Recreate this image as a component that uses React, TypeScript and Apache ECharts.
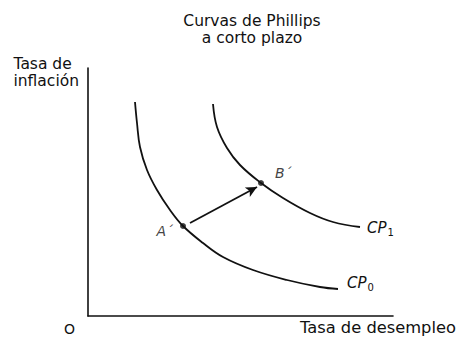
import React, { useEffect, useRef } from "react";
import * as echarts from "echarts";

// Short-run Phillips curves (x = unemployment, y = inflation), arbitrary units
const cp0X = [47, 49, 52, 59, 69, 82, 95, 115, 135, 165, 199, 232, 250];
const cp0Y = [214, 193, 169, 146, 126, 106, 90, 73, 59, 46, 36, 29, 27];
const cp1X = [125, 129, 139, 152, 173, 195, 222, 245, 272];
const cp1Y = [212, 189, 168, 151, 133, 118, 103, 94, 89];
const pointNames = ["A´", "B´"];
const pointX = [95, 173];
const pointY = [90, 133];
const arrowFrom = [102, 93];
const arrowTo = [169, 129];
const curveNames = ["CP0", "CP1"];

const FONT = "DejaVu Sans, Liberation Sans, Arial, sans-serif";

export default function App() {
  const ref = useRef<HTMLDivElement>(null);
  useEffect(() => {
    const chart = echarts.init(ref.current!, null, { renderer: "svg" });
    const ink = "#111111";
    const sub = (name: string) => `{m|${name.slice(0, 2)}}{s|${name.slice(2)}}`;
    const richSub = {
      m: { fontFamily: FONT, fontStyle: "italic", fontSize: 15, color: ink },
      s: { fontFamily: FONT, fontSize: 10, color: ink, padding: [9, 0, 0, 1] },
    };
    const pointLabels = [
      { position: "left", offset: [-2, 5] },
      { position: "right", offset: [6, -10] },
    ];
    chart.setOption({
      animation: false,
      backgroundColor: "#ffffff",
      title: {
        text: "Curvas de Phillips\na corto plazo",
        left: 247,
        textAlign: "center",
        top: 7,
        textStyle: { fontFamily: FONT, fontSize: 15.5, fontWeight: "normal", color: ink, lineHeight: 17 },
      },
      grid: { left: 88, top: 68, width: 305, height: 248 },
      xAxis: {
        type: "value",
        min: 0,
        max: 305,
        splitLine: { show: false },
        axisTick: { show: false },
        axisLabel: { show: false },
        axisLine: { show: true, lineStyle: { color: ink, width: 1.6 } },
      },
      yAxis: {
        type: "value",
        min: 0,
        max: 248,
        splitLine: { show: false },
        axisTick: { show: false },
        axisLabel: { show: false },
        axisLine: { show: true, lineStyle: { color: ink, width: 1.6 } },
      },
      series: [
        {
          type: "line",
          name: curveNames[0],
          data: cp0X.map((x, i) => [x, cp0Y[i]]),
          smooth: 0.4,
          showSymbol: false,
          lineStyle: { color: ink, width: 1.8 },
          endLabel: {
            show: true,
            formatter: () => sub(curveNames[0]),
            rich: richSub,
            distance: 9,
            offset: [0, -6],
          },
        },
        {
          type: "line",
          name: curveNames[1],
          data: cp1X.map((x, i) => [x, cp1Y[i]]),
          smooth: 0.4,
          showSymbol: false,
          lineStyle: { color: ink, width: 1.8 },
          endLabel: {
            show: true,
            formatter: () => sub(curveNames[1]),
            rich: richSub,
            distance: 7,
            offset: [0, 1],
          },
          markLine: {
            silent: true,
            symbol: ["none", "arrow"],
            symbolSize: [8, 11],
            label: { show: false },
            lineStyle: { color: ink, width: 1.8, type: "solid" },
            data: [[{ coord: arrowFrom }, { coord: arrowTo }]],
          },
        },
        {
          type: "scatter",
          data: pointX.map((x, i) => ({
            value: [x, pointY[i]],
            name: pointNames[i],
            label: pointLabels[i],
          })),
          symbolSize: 6,
          itemStyle: { color: ink },
          label: {
            show: true,
            formatter: (p: any) => p.name,
            distance: 5,
            fontFamily: FONT,
            fontStyle: "italic",
            fontSize: 14,
            color: ink,
          },
        },
      ],
      graphic: [
        {
          type: "text",
          right: 462 - 79,
          top: 55,
          style: {
            text: "Tasa de\ninflación",
            align: "right",
            fontFamily: FONT,
            fontSize: 15.5,
            lineHeight: 17,
            fill: ink,
          },
        },
        {
          type: "text",
          left: 300,
          top: 319,
          style: { text: "Tasa de desempleo", fontFamily: FONT, fontSize: 16.3, fill: ink },
        },
        {
          type: "text",
          left: 64,
          top: 322,
          style: { text: "O", fontFamily: FONT, fontSize: 14, fill: ink },
        },
      ],
    });
    return () => chart.dispose();
  }, []);
  return <div ref={ref} style={{ width: 462, height: 339, position: "absolute", left: 0, top: 0 }} />;
}
